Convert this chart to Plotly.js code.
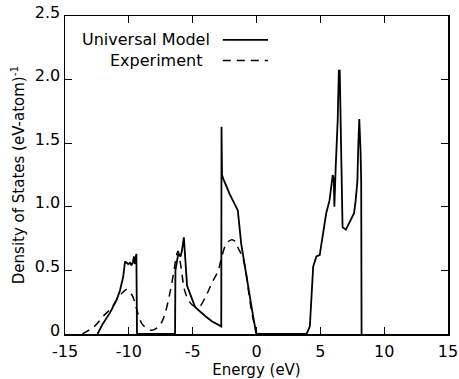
<!DOCTYPE html>
<html><head><meta charset="utf-8">
<script src="https://cdn.plot.ly/plotly-3.0.1.min.js"></script>
<style>body{margin:0;background:#fff}#c{width:459px;height:379px}</style>
</head><body><div id="c"></div>
<script>
// Universal Model (solid)
const modelE = [-12.45,-12.1,-11.46,-10.95,-10.7,-10.44,-10.3,-10.05,-9.9,-9.8,-9.67,-9.6,-9.55,-9.41,-9.36,
  -6.38,-6.35,-6.2,-6.13,-5.95,-5.85,-5.69,-5.6,-5.44,-5.18,-4.8,-4.0,-3.5,-2.76,-2.74,-2.7,-2.6,-2.49,-2.1,-1.6,-1.46,-1.2,-0.82,-0.56,-0.3,-0.05,0.0,
  3.92,4.18,4.44,4.69,4.95,5.46,5.72,5.85,5.97,6.05,6.1,6.2,6.36,6.45,6.52,6.6,6.7,6.74,7.0,7.26,7.64,7.77,7.9,7.97,8.05,8.15,8.2,8.23];
const modelD = [0,0.07,0.17,0.27,0.34,0.45,0.57,0.55,0.56,0.54,0.57,0.61,0.55,0.63,0,
  0,0.5,0.57,0.63,0.61,0.65,0.76,0.6,0.38,0.31,0.21,0.14,0.1,0.06,1.63,1.25,1.22,1.19,1.1,1.0,0.97,0.71,0.48,0.29,0.16,0.02,0,
  0,0.06,0.53,0.61,0.62,0.95,1.05,1.15,1.25,1.22,1.0,1.3,1.68,2.07,2.07,1.62,1.1,0.84,0.82,0.87,0.95,1.05,1.2,1.47,1.69,1.44,1.2,0];
// Experiment (dashed)
const exptE = [-13.65,-12.7,-12.0,-11.33,-10.82,-10.44,-10.18,-9.92,-9.67,-9.28,-8.9,-8.25,-7.9,-7.5,-7.23,-6.85,-6.46,-6.3,-6.15,-5.95,-5.56,-5.05,-4.54,-4.0,-3.5,-3.0,-2.74,-2.36,-1.97,-1.7,-1.46,-1.08,-0.82,-0.56,-0.31,-0.05,0.0];
const exptD = [0,0.06,0.14,0.21,0.29,0.33,0.35,0.33,0.29,0.16,0.07,0.03,0.04,0.08,0.14,0.29,0.5,0.6,0.65,0.55,0.32,0.23,0.21,0.29,0.4,0.5,0.6,0.71,0.74,0.73,0.68,0.6,0.48,0.29,0.14,0.02,0];
const xTicks = [-15,-10,-5,0,5,10,15];
const xTickText = ['-15','-10','-5','0','5','10','15'];
const yTicks = [0,0.5,1.0,1.5,2.0,2.5];
const yTickText = ['0','0.5','1.0','1.5','2.0','2.5'];
const seriesNames = ['Universal Model','Experiment'];

const F = 'DejaVu Sans, sans-serif';
const traces = [
  {x: modelE, y: modelD, mode:'lines', line:{color:'#000', width:1.8}, name:seriesNames[0], showlegend:false},
  {x: exptE, y: exptD, mode:'lines', line:{color:'#000', width:1.5, dash:'8px,6px', shape:'spline'}, name:seriesNames[1], showlegend:false}
];
const ax = {showgrid:false, zeroline:false, showline:true, linecolor:'#000', linewidth:1.5, mirror:'ticks',
  ticks:'inside', ticklen:7, tickwidth:1.2, tickcolor:'#000', ticklabeloverflow:'allow',
  tickfont:{family:F, size:16, color:'#000'}};
const layout = {
  width:459, height:379, margin:{l:65, r:11, t:16, b:45},
  paper_bgcolor:'#fff', plot_bgcolor:'#fff', font:{family:F, color:'#000'},
  xaxis: Object.assign({}, ax, {range:[-15,15], tickvals:xTicks, ticktext:xTickText, ticklabelstandoff:2,
    title:{text:'Energy (eV)', font:{family:F, size:15}, standoff:0}}),
  yaxis: Object.assign({}, ax, {range:[0,2.5], tickvals:yTicks, ticktext:yTickText, ticklabelshift:-4,
    title:{text:'Density of States (eV-atom)<sup>-1</sup>', font:{family:F, size:15}, standoff:6}}),
  annotations:[
    {xref:'paper', yref:'paper', x:0.385, y:0.925, xanchor:'right', yanchor:'middle', text:seriesNames[0], showarrow:false, font:{family:F, size:16}},
    {xref:'paper', yref:'paper', x:0.364, y:0.86, xanchor:'right', yanchor:'middle', text:seriesNames[1], showarrow:false, font:{family:F, size:16}}
  ],
  shapes:[
    {type:'line', xref:'paper', yref:'paper', x0:0.412, x1:0.53, y0:0.925, y1:0.925, line:{color:'#000', width:1.8}},
    {type:'line', xref:'paper', yref:'paper', x0:0.412, x1:0.53, y0:0.86, y1:0.86, line:{color:'#000', width:1.5, dash:'8px,6px'}}
  ]
};
Plotly.newPlot('c', traces, layout, {displayModeBar:false, staticPlot:true});
</script></body></html>
